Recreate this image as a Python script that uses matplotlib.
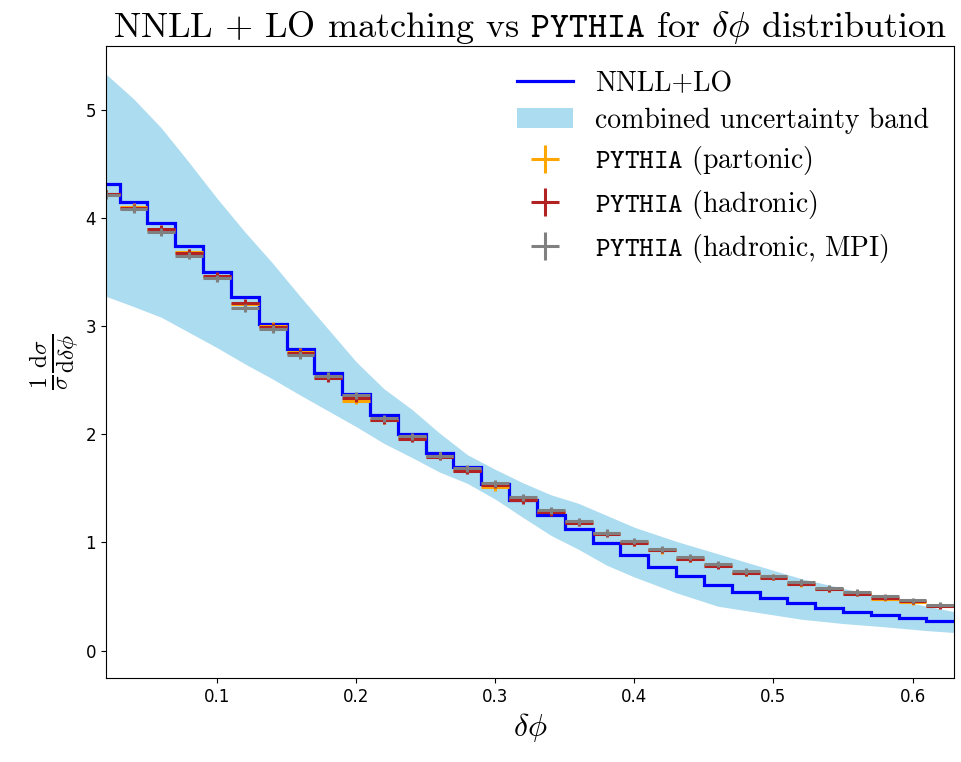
import numpy as np
import matplotlib
matplotlib.use("Agg")
import matplotlib.pyplot as plt

plt.rcParams["mathtext.fontset"] = "cm"
plt.rcParams["axes.unicode_minus"] = False

# bin centres (width 0.02)
dphi = [0.02, 0.04, 0.06, 0.08, 0.10, 0.12, 0.14, 0.16, 0.18, 0.20, 0.22,
        0.24, 0.26, 0.28, 0.30, 0.32, 0.34, 0.36, 0.38, 0.40, 0.42, 0.44,
        0.46, 0.48, 0.50, 0.52, 0.54, 0.56, 0.58, 0.60, 0.62]

nnll_lo = [4.31, 4.15, 3.955, 3.74, 3.50, 3.265, 3.02, 2.79, 2.57, 2.37, 2.18,
           2.00, 1.83, 1.70, 1.54, 1.394, 1.255, 1.12, 0.993, 0.879, 0.777, 0.685,
           0.608, 0.543, 0.49, 0.438, 0.398, 0.358, 0.327, 0.30, 0.272]

py_parton = [4.22, 4.10, 3.89, 3.68, 3.45, 3.20, 3.00, 2.76, 2.53, 2.31, 2.13,
             1.97, 1.80, 1.67, 1.51, 1.40, 1.28, 1.19, 1.085, 1.00, 0.925, 0.843,
             0.79, 0.72, 0.68, 0.615, 0.57, 0.53, 0.48, 0.45, 0.415]

py_hadron = [4.22, 4.09, 3.90, 3.675, 3.46, 3.21, 2.99, 2.75, 2.52, 2.33, 2.13,
             1.96, 1.79, 1.66, 1.53, 1.39, 1.277, 1.18, 1.08, 0.995, 0.93, 0.85,
             0.785, 0.716, 0.675, 0.62, 0.57, 0.527, 0.49, 0.455, 0.41]

py_mpi = [4.21, 4.08, 3.87, 3.65, 3.44, 3.165, 2.97, 2.73, 2.54, 2.36, 2.146,
          1.98, 1.80, 1.687, 1.545, 1.415, 1.295, 1.193, 1.09, 1.01, 0.94, 0.864,
          0.802, 0.734, 0.685, 0.633, 0.583, 0.54, 0.50, 0.463, 0.425]

py_err = [0.035, 0.035, 0.035, 0.035, 0.035, 0.035, 0.035, 0.035, 0.034, 0.034, 0.033,
          0.033, 0.032, 0.032, 0.031, 0.031, 0.030, 0.030, 0.030, 0.029, 0.029, 0.028,
          0.028, 0.028, 0.027, 0.027, 0.027, 0.026, 0.026, 0.026, 0.025]

# uncertainty band
band_x = [0.02, 0.04, 0.06, 0.08, 0.10, 0.12, 0.14, 0.16, 0.18, 0.20, 0.22, 0.24,
          0.26, 0.28, 0.30, 0.32, 0.34, 0.36, 0.38, 0.40, 0.43, 0.46, 0.49, 0.52,
          0.55, 0.58, 0.61, 0.63]
band_hi = [5.33, 5.10, 4.83, 4.51, 4.18, 3.87, 3.58, 3.27, 2.97, 2.67, 2.42, 2.23,
           2.01, 1.81, 1.675, 1.55, 1.44, 1.36, 1.25, 1.14, 1.01, 0.895, 0.78, 0.665,
           0.575, 0.495, 0.41, 0.36]
band_lo = [3.275, 3.18, 3.08, 2.94, 2.80, 2.65, 2.51, 2.36, 2.215, 2.07, 1.915, 1.785,
           1.65, 1.545, 1.40, 1.23, 1.065, 0.935, 0.79, 0.68, 0.535, 0.41, 0.35, 0.29,
           0.25, 0.22, 0.185, 0.167]

half = 0.01
edges = [c - half for c in dphi] + [dphi[-1] + half]

fig = plt.figure(figsize=(9.61, 7.62), dpi=100)
ax = fig.add_axes([0.110, 0.110, 0.883, 0.830])

ax.fill_between(band_x, band_lo, band_hi, color="#acdcf0", lw=0,
                label="combined uncertainty band")
ax.stairs(nnll_lo, edges, baseline=None, color="blue", lw=2.3, label="NNLL+LO")

ax.errorbar(dphi, py_parton, xerr=half, yerr=py_err, fmt="none", ecolor="orange",
            elinewidth=2.2, label=r"$\mathtt{PYTHIA}$ (partonic)")
ax.errorbar(dphi, py_hadron, xerr=half, yerr=py_err, fmt="none", ecolor="firebrick",
            elinewidth=2.2, label=r"$\mathtt{PYTHIA}$ (hadronic)")
ax.errorbar(dphi, py_mpi, xerr=half, yerr=py_err, fmt="none", ecolor="gray",
            elinewidth=2.2, label=r"$\mathtt{PYTHIA}$ (hadronic, MPI)")

ax.set_xlim(0.02, 0.63)
ax.set_ylim(-0.255, 5.59)
ax.set_xticks([0.1, 0.2, 0.3, 0.4, 0.5, 0.6])
ax.set_yticks([0, 1, 2, 3, 4, 5])
ax.tick_params(labelsize=12)

ax.set_xlabel(r"$\delta\phi$", fontsize=23)
ax.set_ylabel(r"$\frac{1}{\sigma}\frac{\mathrm{d}\sigma}{\mathrm{d}\delta\phi}$", fontsize=24)
ax.set_title(r"NNLL $+$ LO matching vs $\mathtt{PYTHIA}$ for $\delta\phi$ distribution",
             fontsize=26, family="cmr10", pad=5)

h, l = ax.get_legend_handles_labels()
order = [l.index("NNLL+LO"), l.index("combined uncertainty band")] + \
        [i for i, s in enumerate(l) if "PYTHIA" in s]
ax.legend([h[i] for i in order], [l[i] for i in order], loc="upper right",
          frameon=False, prop={"family": "cmr10", "size": 20}, labelspacing=0.38)

fig.savefig("out.png", dpi=100)
